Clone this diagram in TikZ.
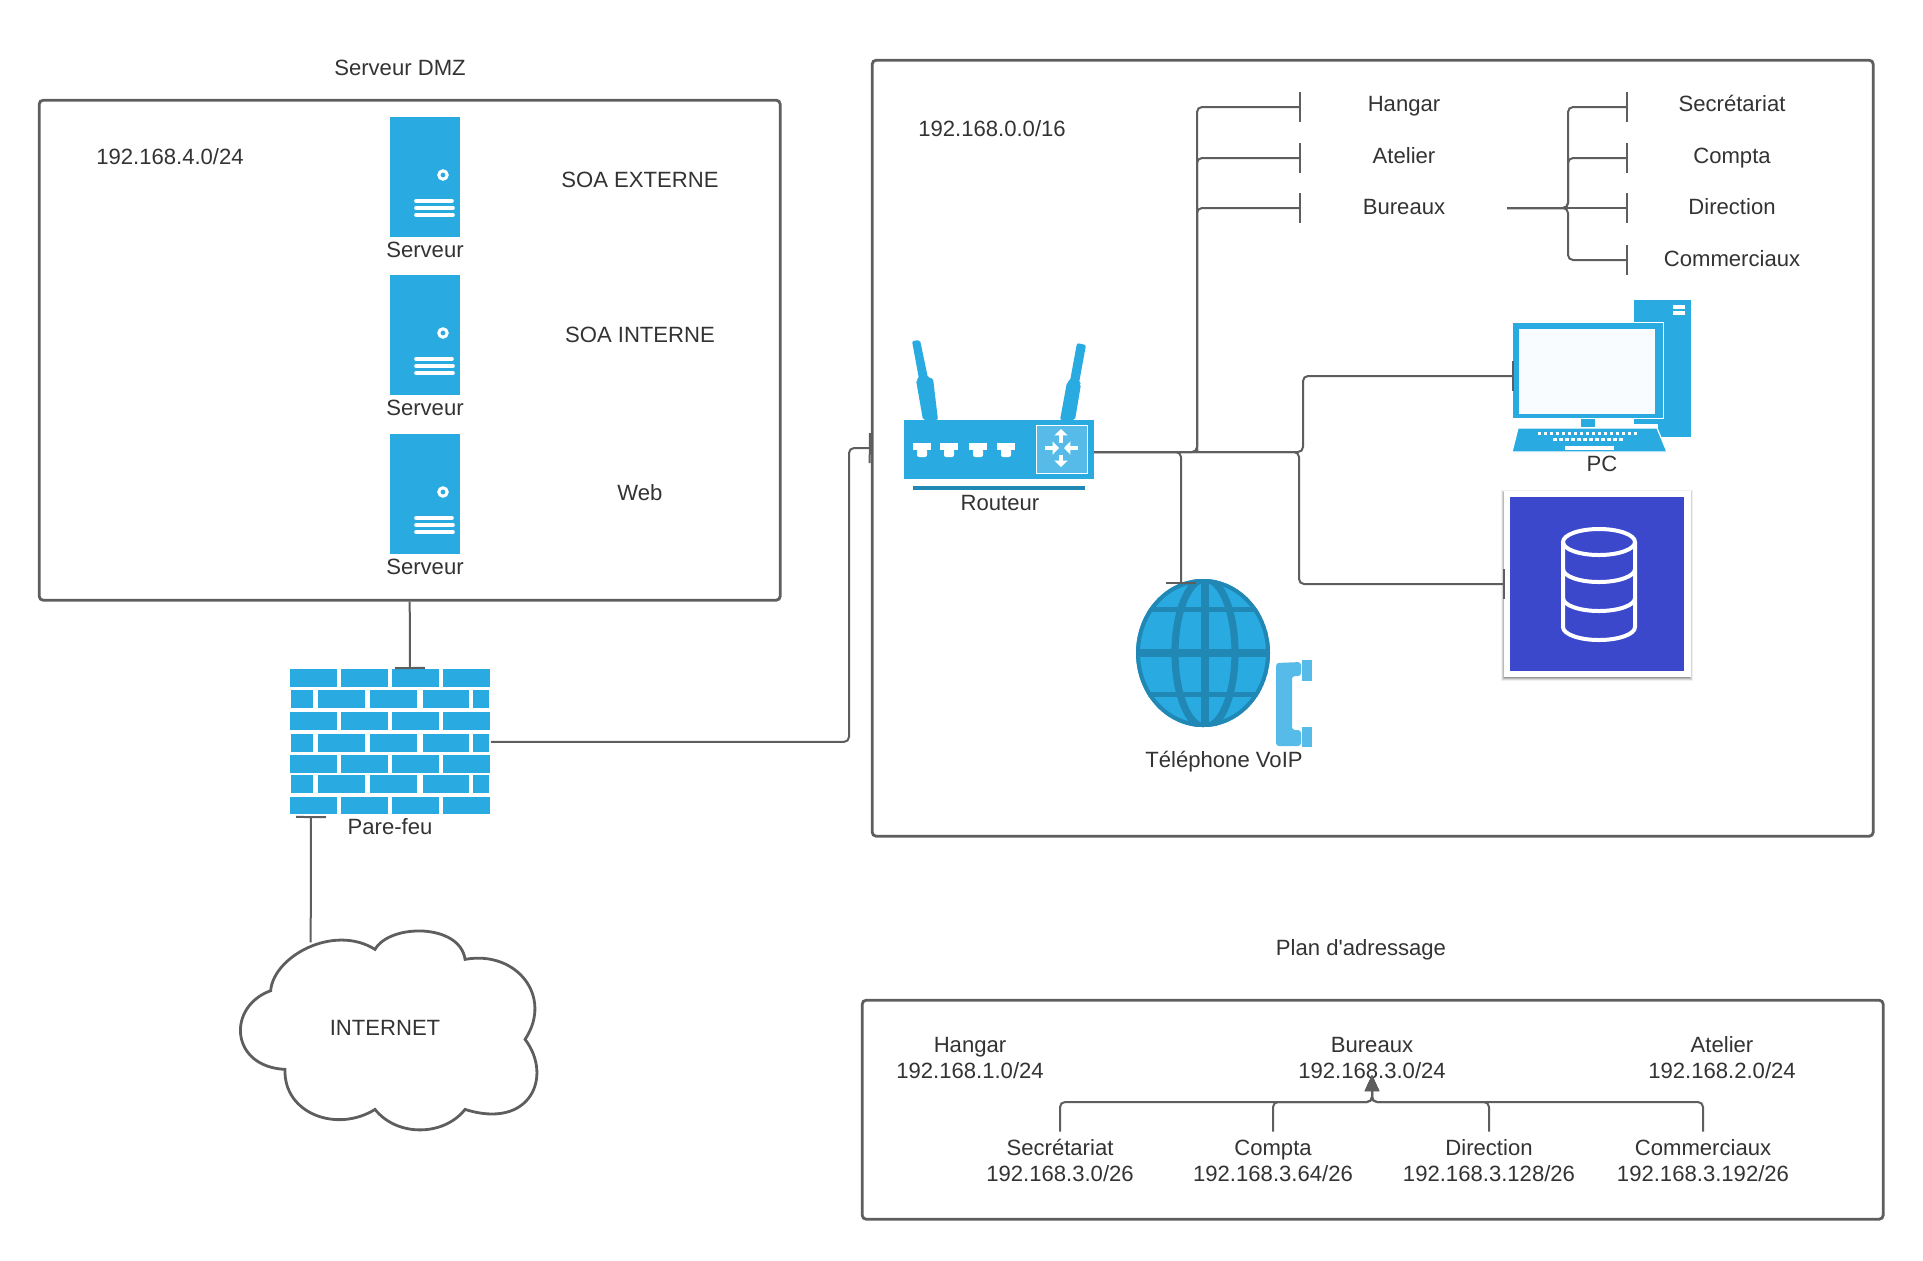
\documentclass[tikz,border=0pt]{standalone}
\usepackage{fontspec}
\setmainfont{Liberation Sans}
\newfontfamily\plainfont{Liberation Sans}
\usetikzlibrary{arrows.meta,calc}
\definecolor{icon}{HTML}{29ABE2}
\definecolor{icondark}{HTML}{2188B6}
\definecolor{iconlight}{HTML}{56BBE8}
\definecolor{linec}{HTML}{5E5E5E}
\definecolor{textc}{HTML}{333333}
\definecolor{dbblue}{HTML}{3B48CC}
\tikzset{
  x=0.5pt,y=-0.5pt,
  txt/.style={text=textc,font=\fontsize{11.05}{13}\selectfont,align=center,inner sep=0pt,yshift=-1.5pt},
  frame/.style={draw=linec,line width=1.4pt,rounded corners=2pt,anchor=north west,inner sep=0pt,fill=white},
  conn/.style={draw=linec,line width=1pt,rounded corners=2.5pt},
  barend/.style={-{Bar[width=15pt,length=1pt]}},
  iconbox/.style={fill=icon,anchor=north west,inner sep=0pt,outer sep=0pt},
  wline/.style={draw=white,line width=1.8pt,line cap=round},
  warrow/.style={draw=white,line width=2.2pt,-{Triangle[width=6.5pt,length=3.2pt]}},
}
\newcommand{\serverbox}[2]{%
  \node[iconbox,minimum width=35pt,minimum height=60pt] (#1) at (390,#2) {};
  \begin{scope}[shift={(0,#2)}]
    \draw[white,line width=1.5pt] (443,58) circle (2.1pt);
    \draw[wline] (416,84) -- (452,84);
    \draw[wline] (416,91) -- (453,91);
    \draw[wline] (416,98) -- (453,98);
  \end{scope}}
\begin{document}
\begin{tikzpicture}
\useasboundingbox (0,0) rectangle (1923,1260);
% frames
\node[frame,minimum width=370.5pt,minimum height=250pt] (dmz) at (37.8,98.8) {};
\node[frame,minimum width=500.5pt,minimum height=388pt] (lan) at (870.8,58.8) {};
\node[frame,minimum width=510.5pt,minimum height=109.5pt] (plan) at (860.8,998.8) {};
% titles
\node[txt] (tdmz) at (400,67) {\strut Serveur DMZ};
\node[txt] (ipdmz) at (170,156) {\strut 192.168.4.0/24};
\node[txt] (soaext) at (640,179) {\strut SOA EXTERNE};
\node[txt] (soaint) at (640,334) {\strut SOA INTERNE};
\node[txt] (web) at (640,492) {\strut Web};
\node[txt] (iplan) at (992,128) {\strut 192.168.0.0/16};
\node[txt] (tplan) at (1361,947) {\strut\plainfont Plan d'adressage};
% servers
\serverbox{s1}{117}
\serverbox{s2}{275}
\serverbox{s3}{434}
\node[txt] (ls1) at (425,249) {\strut Serveur};
\node[txt] (ls2) at (425,407) {\strut Serveur};
\node[txt] (ls3) at (425,566) {\strut Serveur};
% firewall
\node[anchor=north west,inner sep=0pt,minimum width=100pt,minimum height=72.5pt] (fw) at (290,669) {};
\foreach \ya/\yb in {669/687,712/730,755/773,797/814}{
  \foreach \xa/\xb in {290/337,341/388,392/439,443/490}{
    \fill[icon] (\xa,\ya) rectangle (\xb,\yb);}}
\foreach \ya/\yb in {690/708,734/752,775/793}{
  \foreach \xa/\xb in {291/313,318/365,370/417,423/469,473/489}{
    \fill[icon] (\xa,\ya) rectangle (\xb,\yb);}}
\node[txt] (lfw) at (390,826) {\strut Pare-feu};
% cloud
\begin{scope}[shift={(220,900)},x=0.1667pt,y=-0.1667pt]
  \coordinate (cloudtop) at (272,127);
  \draw[linec,line width=1.4pt,line join=miter]
    (152,272) .. controls (160,170) and (340,70) .. (465,148)
    .. controls (510,70) and (720,70) .. (735,178)
    .. controls (890,150) and (1000,290) .. (915,418)
    .. controls (1000,530) and (930,690) .. (735,628)
    .. controls (670,710) and (530,710) .. (465,628)
    .. controls (350,700) and (190,640) .. (195,508)
    .. controls (30,500) and (20,320) .. (152,272) -- cycle;
\end{scope}
\node[txt] (inet) at (385,1027) {\strut INTERNET};
% router
\node[iconbox,minimum width=95pt,minimum height=29.5pt] (router) at (904,420) {};
\fill[icondark] (913,486) rectangle (1085,490);
\node[draw=white,fill=iconlight,line width=0.7pt,anchor=north west,inner sep=0pt,minimum width=25.5pt,minimum height=24pt] (rsq) at (1036,425) {};
\fill[icon,rounded corners=1pt] (912,341) -- (920,340) -- (928,378) -- (933,378) -- (938,420) -- (923,420) -- (916,380) -- (919,379) -- cycle;
\fill[icon,rounded corners=1pt] (1077,343) -- (1086,345) -- (1079,383) -- (1081,384) -- (1075,420) -- (1060,420) -- (1067,382) -- (1070,381) -- cycle;
\foreach \xx in {913,940,969,997}{
  \fill[white] (\xx,443) rectangle ++(18,7);
  \fill[white,rounded corners=1pt] (\xx+4,449) rectangle ++(10,8);}
\draw[warrow] (1061,443) -- (1061,429);
\draw[warrow] (1061,455) -- (1061,467);
\draw[warrow] (1045,448) -- (1059,448);
\draw[warrow] (1078,448) -- (1064,448);
\node[txt] (lrouter) at (1000,502) {\strut Routeur};
% tree labels
\node[txt] (hangar) at (1404,103) {\strut Hangar};
\node[txt] (atelier) at (1404,155) {\strut Atelier};
\node[txt] (bureaux) at (1404,206) {\strut Bureaux};
\node[txt] (secr) at (1732,103) {\strut Secrétariat};
\node[txt] (compta) at (1732,155) {\strut Compta};
\node[txt] (direc) at (1732,206) {\strut Direction};
\node[txt] (comm) at (1732,258) {\strut Commerciaux};
% PC
\node[iconbox,minimum width=28.5pt,minimum height=68.5pt] (tower) at (1634,300) {};
\draw[wline,line cap=butt] (1673,307) -- (1685,307);
\draw[wline,line cap=butt] (1673,313) -- (1685,313);
\node[iconbox,minimum width=75pt,minimum height=47.5pt] (pc) at (1513,323) {};
\draw[white,line width=0.6pt] (1634,322.5) -- (1663.5,322.5) -- (1663.5,418.5) -- (1634,418.5);
\fill[white!97!icon] (1519,329) rectangle (1655,414);
\fill[icon] (1581,419) rectangle (1595,427);
\fill[white] (1634,424) rectangle (1658,428);
\draw[white,line width=0.6pt,fill=icon] (1518,428) -- (1657,428) -- (1667,452) -- (1512,452) -- cycle;
\foreach \k in {0,...,16}{\fill[white] (1537.5+\k*6.0,432) rectangle ++(3.6,3);}
\foreach \k in {0,...,11}{\fill[white] (1553+\k*6.0,438) rectangle ++(3.6,3);}
\fill[white] (1565,446) rectangle (1614,450);
\node[txt] (lpc) at (1602,463) {\strut PC};
% database
\foreach \o/\a in {0/0.06,1/0.10,2/0.14,3/0.18}{
  \fill[black,opacity=\a] (1504-3+\o,491-1+\o) rectangle (1691+2-\o,677+4-\o);}
\node[fill=white,anchor=north west,inner sep=0pt,minimum width=93.5pt,minimum height=93pt] (db) at (1504,491) {};
\fill[dbblue] (1510,497) rectangle (1684,671);
\begin{scope}[draw=white,line width=2pt]
  \draw (1599,542) ellipse (18pt and 6.5pt);
  \draw (1563,542) -- (1563,627) arc[start angle=180,end angle=0,x radius=36,y radius=13] -- (1635,542);
  \draw (1563,569) arc[start angle=180,end angle=0,x radius=36,y radius=13];
  \draw (1563,598) arc[start angle=180,end angle=0,x radius=36,y radius=13];
\end{scope}
% globe
\node[inner sep=0pt,minimum size=0pt,draw=none] (globe) at (1203,653) {};
\begin{scope}
  \clip (1203,653) ellipse (33.5pt and 37pt);
  \fill[icon] (1203,653) ellipse (33.5pt and 37pt);
  \fill[icondark] (1120,649) rectangle (1290,657);
  \fill[icondark] (1120,607) rectangle (1290,612);
  \fill[icondark] (1120,692) rectangle (1290,697);
  \fill[icondark] (1201,570) rectangle (1209,740);
  \draw[icondark,line width=3.6pt] (1205,653) ellipse (15pt and 37pt);
  \draw[icondark,line width=4pt] (1203,653) ellipse (33.5pt and 37pt);
\end{scope}
\fill[iconlight,rounded corners=1.5pt] (1276,663) -- (1301,662) -- (1301,676) -- (1292,676) -- (1292,730) -- (1301,730) -- (1301,746) -- (1276,746) -- cycle;
\fill[iconlight] (1302,660) rectangle (1312,681);
\fill[iconlight] (1302,727) rectangle (1312,747);
\node[txt] (lvoip) at (1224,759) {\strut Téléphone VoIP};
% plan texts
\node[txt] (p1) at (970,1057) {\strut Hangar\\\strut 192.168.1.0/24};
\node[txt] (p2) at (1372,1057) {\strut Bureaux\\\strut 192.168.3.0/24};
\node[txt] (p3) at (1722,1057) {\strut Atelier\\\strut 192.168.2.0/24};
\node[txt] (q1) at (1060,1160) {\strut Secrétariat\\\strut 192.168.3.0/26};
\node[txt] (q2) at (1273,1160) {\strut Compta\\\strut 192.168.3.64/26};
\node[txt] (q3) at (1489,1160) {\strut Direction\\\strut 192.168.3.128/26};
\node[txt] (q4) at (1703,1160) {\strut Commerciaux\\\strut 192.168.3.192/26};
% connector ports
\coordinate (fwtop) at (410,669);
\coordinate (fwbot) at (311,816);
\coordinate (rout) at (1094,452);
\coordinate (j1) at (849,448);
\coordinate (trunk) at (1197,452);
\coordinate (voipb) at (1181,584);
\coordinate (pcj) at (1303,452);
\coordinate (pcb) at (1513.5,376);
\coordinate (dbj) at (1299,452);
\coordinate (dbb) at (1505,584);
\coordinate (b1) at (1301,107);
\coordinate (b2) at (1301,158);
\coordinate (b3) at (1301,208);
\coordinate (c0) at (1507,208);
\coordinate (cj) at (1568,208);
\coordinate (c1) at (1628,107);
\coordinate (c2) at (1628,158);
\coordinate (c3) at (1628,208);
\coordinate (c4) at (1628,260);
\coordinate (pj) at (1372,1102);
\coordinate (ptip) at (1372,1075);
% connectors
\draw[conn,barend] (dmz.south) -- (fwtop);
\draw[conn,barend] (cloudtop) -- (fwbot);
\draw[conn,barend] (fw.east) -| (j1) -- (lan.west);
\draw[conn,barend] (rout) -- (trunk) |- (b1);
\draw[conn,barend] (trunk) |- (b2);
\draw[conn,barend] (trunk) |- (b3);
\draw[conn,barend] (rout) -| (voipb);
\draw[conn,barend] (rout) -- (pcj) |- (pcb);
\draw[conn,barend] (rout) -- (dbj) |- (dbb);
\foreach \t in {c1,c2,c4}{
  \draw[conn,barend] (c0) -- (cj) |- (\t);}
\draw[conn,barend] (c0) -- (c3);
\foreach \q in {q1,q2,q3,q4}{
  \draw[conn,-{Triangle[width=7pt,length=8pt]}] ([yshift=2.5pt]\q.north) |- (pj) -- (ptip);}
\end{tikzpicture}
\end{document}
